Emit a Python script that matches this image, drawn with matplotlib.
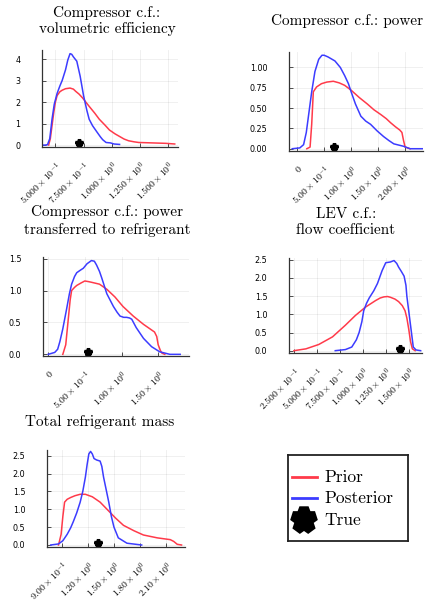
import matplotlib
matplotlib.use("Agg")
import matplotlib.pyplot as plt

plt.rcParams["mathtext.fontset"] = "cm"
plt.rcParams["font.family"] = ["DejaVu Sans"]

PRIOR_C = "#ff3a4a"
POST_C = "#3c3cff"

titles = [
    "Compressor c.f.:\nvolumetric efficiency",
    "Compressor c.f.: power",
    "Compressor c.f.: power\ntransferred to refrigerant",
    "LEV c.f.:\nflow coefficient",
    "Total refrigerant mass",
]
legend_labels = ["Prior", "Posterior", "True"]

# panel 1: volumetric efficiency
p1_prior_x = [0.44, 0.455, 0.47, 0.485, 0.50, 0.515, 0.54, 0.56, 0.59, 0.63, 0.66, 0.68, 0.71, 0.74, 0.77, 0.80, 0.85, 0.89, 0.94, 0.98, 1.03, 1.07, 1.11, 1.15, 1.20, 1.24, 1.30, 1.36, 1.42, 1.48, 1.56]
p1_prior_y = [0.0, 0.3, 0.9, 1.5, 2.0, 2.3, 2.48, 2.55, 2.62, 2.65, 2.6, 2.5, 2.37, 2.2, 2.0, 1.8, 1.48, 1.2, 0.93, 0.7, 0.52, 0.4, 0.28, 0.2, 0.15, 0.12, 0.11, 0.1, 0.09, 0.08, 0.05]
p1_post_x = [0.38, 0.41, 0.43, 0.45, 0.47, 0.49, 0.515, 0.54, 0.56, 0.59, 0.61, 0.63, 0.645, 0.66, 0.69, 0.72, 0.75, 0.78, 0.80, 0.83, 0.87, 0.90, 0.92, 0.95, 0.99, 1.02, 1.07]
p1_post_y = [0.0, 0.0, 0.02, 0.3, 1.2, 1.9, 2.4, 2.75, 3.0, 3.5, 3.95, 4.25, 4.22, 4.1, 3.9, 3.2, 2.3, 1.6, 1.2, 0.9, 0.6, 0.38, 0.25, 0.12, 0.1, 0.05, 0.03]
p1_true = (0.71, 0.1)

# panel 2: power
p2_prior_x = [0.18, 0.24, 0.27, 0.3, 0.36, 0.45, 0.55, 0.67, 0.78, 0.88, 1.0, 1.15, 1.3, 1.42, 1.55, 1.65, 1.73, 1.82, 1.9, 1.94, 1.97, 2.0, 2.09]
p2_prior_y = [0.0, 0.02, 0.3, 0.7, 0.76, 0.8, 0.82, 0.83, 0.81, 0.78, 0.72, 0.63, 0.55, 0.48, 0.42, 0.37, 0.32, 0.27, 0.23, 0.2, 0.1, 0.02, 0.0]
p2_post_x = [-0.09, 0.05, 0.12, 0.17, 0.22, 0.27, 0.33, 0.4, 0.46, 0.5, 0.57, 0.7, 0.8, 0.88, 0.95, 1.0, 1.08, 1.18, 1.27, 1.36, 1.48, 1.6, 1.7, 1.79, 1.97, 2.09, 2.33]
p2_post_y = [0.0, 0.01, 0.05, 0.2, 0.45, 0.7, 0.95, 1.1, 1.15, 1.15, 1.13, 1.08, 1.0, 0.9, 0.8, 0.7, 0.55, 0.4, 0.34, 0.3, 0.22, 0.15, 0.1, 0.06, 0.03, 0.0, 0.0]
p2_true = (0.68, 0.025)

# panel 3: power transferred to refrigerant
p3_prior_x = [0.2, 0.24, 0.27, 0.3, 0.32, 0.36, 0.39, 0.45, 0.5, 0.55, 0.59, 0.7, 0.8, 0.91, 1.02, 1.16, 1.3, 1.45, 1.48, 1.5, 1.53, 1.55, 1.59]
p3_prior_y = [0.0, 0.15, 0.5, 0.85, 1.0, 1.05, 1.08, 1.12, 1.15, 1.14, 1.13, 1.1, 1.02, 0.9, 0.75, 0.6, 0.47, 0.35, 0.28, 0.15, 0.06, 0.02, 0.0]
p3_post_x = [0.0, 0.09, 0.13, 0.16, 0.2, 0.25, 0.29, 0.32, 0.36, 0.39, 0.44, 0.48, 0.53, 0.59, 0.63, 0.66, 0.7, 0.73, 0.8, 0.89, 0.94, 0.98, 1.03, 1.07, 1.11, 1.14, 1.2, 1.3, 1.41, 1.52, 1.66, 1.8]
p3_post_y = [0.0, 0.03, 0.08, 0.2, 0.4, 0.7, 0.95, 1.1, 1.22, 1.28, 1.32, 1.35, 1.42, 1.47, 1.46, 1.4, 1.3, 1.2, 0.95, 0.75, 0.66, 0.6, 0.58, 0.58, 0.57, 0.55, 0.42, 0.25, 0.12, 0.04, 0.0, 0.0]
p3_true = (0.55, 0.03)

# panel 4: LEV flow coefficient
p4_prior_x = [0.25, 0.38, 0.52, 0.67, 0.81, 0.92, 1.03, 1.14, 1.19, 1.23, 1.27, 1.3, 1.35, 1.39, 1.43, 1.46, 1.48, 1.5, 1.52, 1.54, 1.57]
p4_prior_y = [0.0, 0.05, 0.17, 0.38, 0.7, 0.97, 1.2, 1.38, 1.45, 1.48, 1.49, 1.47, 1.42, 1.35, 1.24, 1.1, 0.9, 0.6, 0.25, 0.05, 0.0]
p4_post_x = [0.7, 0.81, 0.88, 0.93, 0.96, 0.99, 1.01, 1.04, 1.07, 1.12, 1.16, 1.21, 1.25, 1.3, 1.34, 1.37, 1.39, 1.42, 1.45, 1.47, 1.48, 1.5, 1.52, 1.55, 1.58, 1.63]
p4_post_y = [0.0, 0.03, 0.1, 0.3, 0.5, 0.8, 1.1, 1.3, 1.45, 1.65, 1.85, 2.2, 2.42, 2.44, 2.48, 2.4, 2.3, 2.18, 2.05, 1.8, 1.5, 1.1, 0.7, 0.1, 0.02, 0.0]
p4_true = (1.41, 0.05)

# panel 5: total refrigerant mass
p5_prior_x = [0.86, 0.89, 0.91, 0.93, 0.96, 1.0, 1.05, 1.11, 1.17, 1.25, 1.34, 1.42, 1.52, 1.61, 1.73, 1.84, 2.0, 2.15, 2.19, 2.23, 2.28]
p5_prior_y = [0.0, 0.3, 0.8, 1.2, 1.28, 1.33, 1.38, 1.42, 1.42, 1.35, 1.2, 1.0, 0.75, 0.55, 0.4, 0.28, 0.2, 0.15, 0.1, 0.02, 0.0]
p5_post_x = [0.77, 0.86, 0.91, 0.96, 1.0, 1.03, 1.07, 1.11, 1.14, 1.17, 1.19, 1.21, 1.23, 1.25, 1.27, 1.3, 1.34, 1.36, 1.38, 1.41, 1.44, 1.47, 1.5, 1.55, 1.65, 1.82]
p5_post_y = [0.0, 0.03, 0.12, 0.3, 0.48, 0.65, 0.9, 1.2, 1.5, 1.9, 2.25, 2.55, 2.62, 2.55, 2.42, 2.38, 2.35, 2.2, 1.9, 1.55, 1.2, 0.8, 0.5, 0.2, 0.05, 0.0]
p5_true = (1.31, 0.05)

xticks = [
    [0.5, 0.75, 1.0, 1.25, 1.5],
    [0.0, 0.5, 1.0, 1.5, 2.0],
    [0.0, 0.5, 1.0, 1.5],
    [0.25, 0.5, 0.75, 1.0, 1.25, 1.5],
    [0.9, 1.2, 1.5, 1.8, 2.1],
]
xticklabels = [
    [r"$5.000\times10^{-1}$", r"$7.500\times10^{-1}$", r"$1.000\times10^{0}$", r"$1.250\times10^{0}$", r"$1.500\times10^{0}$"],
    [r"$0$", r"$5.00\times10^{-1}$", r"$1.00\times10^{0}$", r"$1.50\times10^{0}$", r"$2.00\times10^{0}$"],
    [r"$0$", r"$5.00\times10^{-1}$", r"$1.00\times10^{0}$", r"$1.50\times10^{0}$"],
    [r"$2.500\times10^{-1}$", r"$5.000\times10^{-1}$", r"$7.500\times10^{-1}$", r"$1.000\times10^{0}$", r"$1.250\times10^{0}$", r"$1.500\times10^{0}$"],
    [r"$9.00\times10^{-1}$", r"$1.20\times10^{0}$", r"$1.50\times10^{0}$", r"$1.80\times10^{0}$", r"$2.10\times10^{0}$"],
]
yticks = [
    [0, 1, 2, 3, 4],
    [0.0, 0.25, 0.5, 0.75, 1.0],
    [0.0, 0.5, 1.0, 1.5],
    [0.0, 0.5, 1.0, 1.5, 2.0, 2.5],
    [0.0, 0.5, 1.0, 1.5, 2.0, 2.5],
]
yticklabels = [
    ["0", "1", "2", "3", "4"],
    ["0.00", "0.25", "0.50", "0.75", "1.00"],
    ["0.0", "0.5", "1.0", "1.5"],
    ["0.0", "0.5", "1.0", "1.5", "2.0", "2.5"],
    ["0.0", "0.5", "1.0", "1.5", "2.0", "2.5"],
]

priors = [(p1_prior_x, p1_prior_y), (p2_prior_x, p2_prior_y), (p3_prior_x, p3_prior_y),
          (p4_prior_x, p4_prior_y), (p5_prior_x, p5_prior_y)]
posts = [(p1_post_x, p1_post_y), (p2_post_x, p2_post_y), (p3_post_x, p3_post_y),
         (p4_post_x, p4_post_y), (p5_post_x, p5_post_y)]
trues = [p1_true, p2_true, p3_true, p4_true, p5_true]

W, H = 425, 604
# axes boxes in pixels: left, top, right, bottom
boxes = [(42, 50, 178, 147), (289, 52, 423, 151), (43, 257, 189, 356),
         (289, 258, 422, 353), (47, 450, 185, 547)]
xlims = [(0.381, 1.589), (-0.15, 2.33), (-0.07, 1.92), (0.196, 1.645), (0.727, 2.32)]
ylims = [(-0.09, 4.42), (-0.028, 1.19), (-0.026, 1.526), (-0.064, 2.55), (-0.056, 2.66)]
# title centres in pixels
title_pos = [(107, 21), (347, 21), (107, 221), (346, 222), (100, 422)]

fig = plt.figure(figsize=(W / 100, H / 100), dpi=100)

for i in range(5):
    l, t, r, b = boxes[i]
    ax = fig.add_axes([l / W, 1 - b / H, (r - l) / W, (b - t) / H])
    ax.plot(*priors[i], color=PRIOR_C, lw=1.1, solid_joinstyle="round")
    ax.plot(*posts[i], color=POST_C, lw=1.1, solid_joinstyle="round")
    ax.plot([trues[i][0]], [trues[i][1]], marker="*", color="black", ms=5.5,
            mew=2.4, mec="black", linestyle="none", solid_joinstyle="round")
    ax.set_xlim(*xlims[i])
    ax.set_ylim(*ylims[i])
    ax.set_xticks(xticks[i])
    ax.set_xticklabels(xticklabels[i], rotation=45, ha="right", va="top",
                       rotation_mode="anchor", fontsize=7)
    ax.set_yticks(yticks[i])
    ax.set_yticklabels(yticklabels[i], fontsize=5.8)
    ax.grid(True, color="#000000", alpha=0.07, lw=0.6)
    for s in ("top", "right"):
        ax.spines[s].set_visible(False)
    for s in ("left", "bottom"):
        ax.spines[s].set_color("#333333")
        ax.spines[s].set_linewidth(0.9)
    ax.tick_params(direction="in", length=2.8, width=0.6, color="#333333")
    ax.tick_params(axis="y", pad=15.5)
    ax.tick_params(axis="x", pad=9)
    tx, ty = title_pos[i]
    fig.text(tx / W, 1 - ty / H, titles[i], family="cmr10", fontsize=11,
             ha="center", va="center", linespacing=1.25)

# legend box drawn as its own axes, in pixel units
lax = fig.add_axes([288 / W, 1 - 541 / H, 120 / W, 86 / H])
lax.set_xlim(0, 120)
lax.set_ylim(86, 0)
lax.set_xticks([])
lax.set_yticks([])
for s in lax.spines.values():
    s.set_color("#222222")
    s.set_linewidth(1.3)
rows = [22, 43, 65]
lax.plot([4, 29], [rows[0], rows[0]], color=PRIOR_C, lw=2)
lax.plot([4, 29], [rows[1], rows[1]], color=POST_C, lw=2)
lax.plot([16], [rows[2]], marker="*", color="black", ms=17, mew=7,
         linestyle="none", solid_joinstyle="round")
for y, lab in zip(rows, legend_labels):
    lax.text(36, y, lab, family="cmr10", fontsize=12.5, ha="left", va="center")

fig.savefig("out.png", dpi=100)
